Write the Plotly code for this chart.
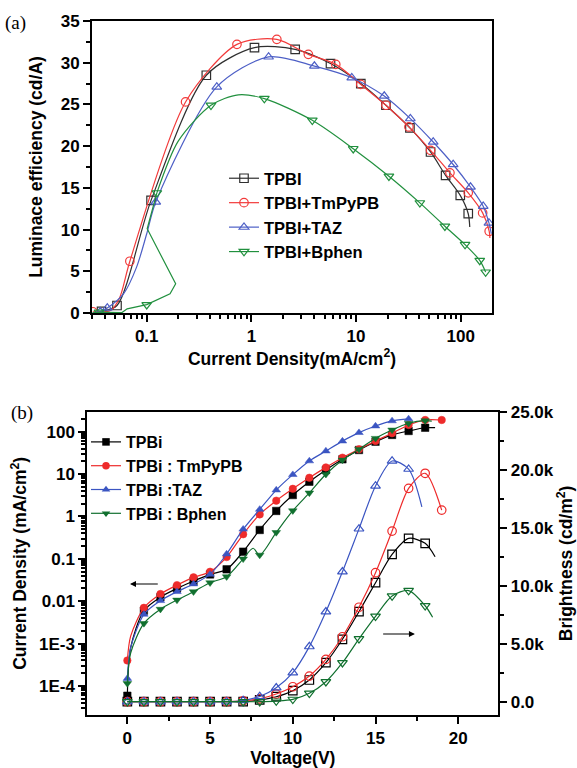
import math
import plotly.graph_objects as go

W, H = 577, 768

# ---------------- Panel (a): luminance efficiency vs current density ----------------
a_names = ["TPBI", "TPBI+TmPyPB", "TPBI+TAZ", "TPBI+Bphen"]

# full curve paths (x: mA/cm2, y: cd/A) and marker flags (1 = marker drawn)
tpbi_a_x = [0.031, 0.037, 0.052, 0.11, 0.371, 1.07, 2.62, 5.7, 11.1, 19.3, 32.7, 51.5, 71.7, 99, 118, 122]
tpbi_a_y = [0.05, 0.2, 0.9, 13.5, 28.5, 31.8, 31.6, 29.9, 27.5, 24.9, 22.2, 19.3, 16.5, 14.1, 11.9, 10.3]
tpbi_a_m = [0, 1, 1, 1, 1, 1, 1, 1, 1, 1, 1, 1, 1, 1, 1, 0]

tmpy_a_x = [0.0305, 0.045, 0.055, 0.069, 0.235, 0.728, 1.75, 3.5, 6.4, 11.1, 19.3, 32, 51.5, 78.9, 118, 162, 187, 190]
tmpy_a_y = [0.15, 0.3, 1.8, 6.2, 25.3, 32.2, 32.8, 31.0, 29.8, 27.4, 24.9, 22.3, 19.5, 16.8, 14.4, 12.0, 9.8, 9.0]
tmpy_a_m = [1, 0, 0, 1, 1, 1, 1, 1, 1, 1, 1, 1, 1, 1, 1, 1, 1, 0]

taz_a_x = [0.031, 0.036, 0.042, 0.06, 0.08, 0.1, 0.122, 0.467, 1.46, 4.0, 9.1, 18.6, 33, 54.6, 84.7, 124, 164, 186, 196]
taz_a_y = [0.05, 0.15, 0.6, 2.3, 5.5, 9.5, 13.3, 27.1, 30.7, 29.6, 28.2, 26.0, 23.3, 20.5, 17.8, 15.1, 12.8, 10.8, 9.5]
taz_a_m = [0, 1, 1, 0, 0, 0, 1, 1, 1, 1, 1, 1, 1, 1, 1, 1, 1, 1, 0]

bph_a_x = [0.03, 0.035, 0.058, 0.065, 0.1, 0.167, 0.189, 0.101, 0.125, 0.2, 0.411, 0.75, 1.33, 3.82, 9.4, 20.6, 40.7, 70.6, 110, 152, 173]
bph_a_y = [0.0, 0.1, 0.05, 0.5, 1.0, 2.3, 3.5, 10.1, 14.4, 20.6, 24.9, 26.15, 25.7, 23.1, 19.7, 16.4, 13.2, 10.4, 8.2, 6.3, 4.9]
bph_a_m = [0, 1, 0, 0, 1, 0, 0, 0, 1, 0, 1, 0, 1, 1, 1, 1, 1, 1, 1, 1, 1]
bph_a_kink_end = 8  # low-current part (up to this index) is drawn with straight segments

# ---------------- Panel (b): J-V and L-V ----------------
b_names = ["TPBi", "TPBi : TmPyPB", "TPBi :TAZ", "TPBi : Bphen"]

# current density (mA/cm2) paths
tpbi_j_v = [0, 0.2, 1, 2, 3, 4, 5, 6, 7, 8, 9, 10, 11, 12, 13, 14, 15, 16, 17, 18, 18.6]
tpbi_j = [5.9e-5, 8e-4, 0.006, 0.0125, 0.02, 0.03, 0.043, 0.0565, 0.148, 0.48, 1.35, 3.2, 6.6, 12.5, 22.3, 37, 58, 84, 104, 124, 125]
tpbi_j_m = [1, 0, 1, 1, 1, 1, 1, 1, 1, 1, 1, 1, 1, 1, 1, 1, 1, 1, 1, 1, 0]

tmpy_j_v = [0, 0.2, 1, 2, 3, 4, 5, 6, 7, 8, 9, 10, 11, 12, 13, 14, 15, 16, 17, 18, 19]
tmpy_j = [4.0e-4, 1.5e-3, 7.0e-3, 0.0148, 0.024, 0.0366, 0.0497, 0.110, 0.38, 1.12, 2.36, 4.5, 8.2, 14.4, 24.4, 38.5, 60.4, 92, 144, 189, 189]
tmpy_j_m = [1, 0, 1, 1, 1, 1, 1, 1, 1, 1, 1, 1, 1, 1, 1, 1, 1, 1, 1, 1, 1]

taz_j_v = [0, 0.2, 1, 2, 3, 4, 5, 6, 7, 8, 9, 10, 11, 12, 13, 14, 15, 16, 17]
taz_j = [1.5e-4, 8e-4, 4.9e-3, 0.0103, 0.0168, 0.0255, 0.043, 0.13, 0.50, 1.47, 4.2, 9.7, 20.4, 35, 60, 95, 136, 180, 200]
taz_j_m = [1, 0, 1, 1, 1, 1, 1, 1, 1, 1, 1, 1, 1, 1, 1, 1, 1, 1, 1]

bph_j_v = [0, 0.2, 1, 2, 3, 4, 5, 6, 7, 7.6, 8, 9, 10, 11, 12, 13, 14, 15, 16, 17, 18, 18.4]
bph_j = [1.15e-4, 6e-4, 3.0e-3, 0.0065, 0.0107, 0.0168, 0.0274, 0.038, 0.1, 0.178, 0.123, 0.42, 1.37, 3.6, 9.9, 21.5, 38.5, 70, 110, 158, 182, 178]
bph_j_m = [1, 0, 1, 1, 1, 1, 1, 1, 1, 0, 1, 1, 1, 1, 1, 1, 1, 1, 1, 1, 1, 0]

# brightness (cd/m2) paths
tpbi_l_v = [0, 1, 2, 3, 4, 5, 6, 7, 8, 9, 10, 11, 12, 13, 14, 15, 16, 17, 18, 18.6]
tpbi_l = [0, 0, 0, 0, 0, 0, 0, 0, 150, 430, 950, 1870, 3360, 5380, 7760, 10260, 12700, 14080, 13650, 12500]
tpbi_l_m = [1] * 19 + [0]

tmpy_l_v = [0, 1, 2, 3, 4, 5, 6, 7, 8, 9, 10, 11, 12, 13, 14, 15, 16, 17, 18, 19]
tmpy_l = [0, 0, 0, 0, 0, 0, 0, 80, 250, 660, 1290, 2210, 3650, 5600, 8140, 11120, 14710, 18390, 19690, 16520]
tmpy_l_m = [1] * 20

taz_l_v = [0, 1, 2, 3, 4, 5, 6, 7, 8, 9, 10, 11, 12, 13, 14, 15, 16, 17, 17.8]
taz_l = [0, 0, 0, 0, 0, 0, 0, 100, 450, 1200, 2500, 4750, 7750, 11200, 14900, 18600, 20750, 20050, 16800]
taz_l_m = [1] * 18 + [0]

bph_l_v = [0, 1, 2, 3, 4, 5, 6, 7, 8, 9, 10, 11, 12, 13, 14, 15, 16, 17, 18, 18.45]
bph_l = [0, 0, 0, 0, 0, 0, 0, 0, 0, 50, 200, 720, 1720, 3360, 5420, 7360, 9110, 9580, 8270, 7280]
bph_l_m = [1] * 19 + [0]

a_y_ticks = [0, 5, 10, 15, 20, 25, 30, 35]
a_x_ticks = [0.1, 1, 10, 100]
a_x_ticktext = ["0.1", "1", "10", "100"]
b_x_ticks = [0, 5, 10, 15, 20]
b_j_ticks = [1e-4, 1e-3, 0.01, 0.1, 1, 10, 100]
b_j_ticktext = ["1E-4", "1E-3", "0.01", "0.1", "1", "10", "100"]
b_l_ticks = [0, 5000, 10000, 15000, 20000, 25000]
b_l_ticktext = ["0.0", "5.0k", "10.0k", "15.0k", "20.0k", "25.0k"]

a_colors = ["#2f2f2f", "#f23a3a", "#4d5fc6", "#21903e"]
b_colors = ["#000000", "#ee2b2b", "#3b55c2", "#11702f"]
a_symbols = ["square-open", "circle-open", "triangle-up-open", "triangle-down-open"]
b_symbols_f = ["square", "circle", "triangle-up", "triangle-down"]
b_symbols_o = ["square-open", "circle-open", "triangle-up-open", "triangle-down-open"]

FONT = "Liberation Sans, Arial, sans-serif"


def pick(vals, flags):
    return [v for v, f in zip(vals, flags) if f]


def bold(lst):
    return ["<b>%s</b>" % s for s in lst]


fig = go.Figure()

a_series = [(tpbi_a_x, tpbi_a_y, tpbi_a_m), (tmpy_a_x, tmpy_a_y, tmpy_a_m),
            (taz_a_x, taz_a_y, taz_a_m), (bph_a_x, bph_a_y, bph_a_m)]
for i, (xs, ys, ms) in enumerate(a_series):
    c = a_colors[i]
    if i == 3:
        k = bph_a_kink_end
        fig.add_trace(go.Scatter(x=xs[:k + 1], y=ys[:k + 1], mode="lines", line=dict(color=c, width=1.2),
                                 xaxis="x", yaxis="y", showlegend=False, hoverinfo="skip"))
        fig.add_trace(go.Scatter(x=xs[k:], y=ys[k:], mode="lines",
                                 line=dict(color=c, width=1.2, shape="spline", smoothing=0.8),
                                 xaxis="x", yaxis="y", showlegend=False, hoverinfo="skip"))
    else:
        fig.add_trace(go.Scatter(x=xs, y=ys, mode="lines", line=dict(color=c, width=1.2, shape="spline", smoothing=0.8),
                                 xaxis="x", yaxis="y", showlegend=False, hoverinfo="skip"))
    fig.add_trace(go.Scatter(x=pick(xs, ms), y=pick(ys, ms), mode="markers",
                             marker=dict(symbol=a_symbols[i], size=8.5, color=c, line=dict(width=1.2, color=c)),
                             xaxis="x", yaxis="y", showlegend=False))
    fig.add_trace(go.Scatter(x=[None], y=[None], mode="lines+markers", name=a_names[i], legend="legend",
                             line=dict(color=c, width=1.2),
                             marker=dict(symbol=a_symbols[i], size=8.5, color=c, line=dict(width=1.2, color=c)),
                             xaxis="x", yaxis="y"))

b_j = [(tpbi_j_v, tpbi_j, tpbi_j_m), (tmpy_j_v, tmpy_j, tmpy_j_m), (taz_j_v, taz_j, taz_j_m), (bph_j_v, bph_j, bph_j_m)]
b_l = [(tpbi_l_v, tpbi_l, tpbi_l_m), (tmpy_l_v, tmpy_l, tmpy_l_m), (taz_l_v, taz_l, taz_l_m), (bph_l_v, bph_l, bph_l_m)]
for i in range(4):
    c = b_colors[i]
    xs, ys, ms = b_l[i]
    fig.add_trace(go.Scatter(x=xs, y=ys, mode="lines", line=dict(color=c, width=1.2, shape="spline", smoothing=0.8),
                             xaxis="x2", yaxis="y3", showlegend=False, hoverinfo="skip"))
    fig.add_trace(go.Scatter(x=pick(xs, ms), y=pick(ys, ms), mode="markers",
                             marker=dict(symbol=b_symbols_o[i], size=8.5, color=c, line=dict(width=1.2, color=c)),
                             xaxis="x2", yaxis="y3", showlegend=False))
for i in range(4):
    c = b_colors[i]
    xs, ys, ms = b_j[i]
    fig.add_trace(go.Scatter(x=xs, y=ys, mode="lines", line=dict(color=c, width=1.2, shape="spline", smoothing=0.8),
                             xaxis="x2", yaxis="y2", showlegend=False, hoverinfo="skip"))
    fig.add_trace(go.Scatter(x=pick(xs, ms), y=pick(ys, ms), mode="markers",
                             marker=dict(symbol=b_symbols_f[i], size=7.5, color=c, line=dict(width=0.5, color=c)),
                             xaxis="x2", yaxis="y2", showlegend=False))
    fig.add_trace(go.Scatter(x=[None], y=[None], mode="lines+markers", name=b_names[i], legend="legend2",
                             line=dict(color=c, width=1.2),
                             marker=dict(symbol=b_symbols_f[i], size=7.5, color=c),
                             xaxis="x2", yaxis="y2"))

tickfont = dict(family=FONT, size=17, color="black")
titlefont = dict(family=FONT, size=17.5, color="black", weight="bold")
axis_common = dict(showgrid=False, zeroline=False, showline=True, linecolor="black", linewidth=2,
                   ticks="outside", ticklen=7, tickwidth=2, tickcolor="black", tickfont=tickfont,
                   automargin=False, tickmode="array")
minor_common = dict(ticks="outside", ticklen=4, tickwidth=1.5, tickcolor="black", showgrid=False)

a_minor_x = [m * 10 ** e for e in range(-2, 3) for m in range(2, 10) if 0.03 <= m * 10 ** e <= 200]
b_minor_y = [m * 10 ** e for e in range(-5, 3) for m in range(2, 10) if 2e-5 <= m * 10 ** e <= 300]


def xd(x0, x1):
    return [x0 / W, x1 / W]


def yd(top, bottom):
    return [1 - bottom / H, 1 - top / H]


fig.update_layout(
    width=W, height=H, margin=dict(l=0, r=0, t=0, b=0),
    paper_bgcolor="white", plot_bgcolor="white",
    font=dict(family=FONT, color="black"),
    xaxis=dict(axis_common, type="log", domain=xd(92, 492), anchor="y",
               range=[math.log10(0.03), math.log10(199)], mirror=True,
               tickvals=a_x_ticks, ticktext=bold(a_x_ticktext),
               minor=dict(minor_common, tickmode="array", tickvals=a_minor_x),
               title=dict(text="Current Density(mA/cm<sup>2</sup>)", font=titlefont, standoff=4)),
    yaxis=dict(axis_common, domain=yd(21, 313), anchor="x", range=[0, 35], mirror=True,
               tickvals=a_y_ticks, ticktext=bold([str(t) for t in a_y_ticks]),
               minor=dict(minor_common, tick0=0, dtick=2.5),
               title=dict(text="Luminace efficiency (cd/A)", font=titlefont, standoff=14)),
    xaxis2=dict(axis_common, domain=xd(87.3, 498.3), anchor="y2", range=[-2.42, 22.42], mirror=True,
                tickvals=b_x_ticks, ticktext=bold([str(t) for t in b_x_ticks]),
                minor=dict(minor_common, tick0=0, dtick=2.5),
                title=dict(text="Voltage(V)", font=titlefont, standoff=10)),
    yaxis2=dict(axis_common, type="log", domain=yd(411.7, 715), anchor="x2", range=[-4.684, 2.472],
                tickvals=b_j_ticks, ticktext=bold(b_j_ticktext),
                minor=dict(minor_common, tickmode="array", tickvals=b_minor_y),
                title=dict(text="Current Density (mA/cm<sup>2</sup>)", font=titlefont, standoff=8)),
    yaxis3=dict(axis_common, overlaying="y2", side="right", anchor="x2", range=[-1147, 25000],
                tickvals=b_l_ticks, ticktext=bold(b_l_ticktext),
                minor=dict(minor_common, tick0=0, dtick=2500),
                title=dict(text="Brightness (cd/m<sup>2</sup>)", font=titlefont, standoff=6)),
    legend=dict(x=224 / W, y=1 - 161 / H, xanchor="left", yanchor="top", bgcolor="rgba(0,0,0,0)",
                font=dict(family=FONT, size=16.5, color="black", weight="bold"), itemwidth=30,
                tracegroupgap=0),
    legend2=dict(x=86 / W, y=1 - 425 / H, xanchor="left", yanchor="top", bgcolor="rgba(0,0,0,0)",
                 font=dict(family=FONT, size=16, color="black", weight="bold"), itemwidth=30,
                 tracegroupgap=0),
    annotations=[
        dict(text="(a)", x=15 / W, y=1 - 23 / H, xref="paper", yref="paper", showarrow=False,
             xanchor="center", yanchor="middle", font=dict(family="Liberation Serif, Times New Roman, serif", size=19)),
        dict(text="(b)", x=22 / W, y=1 - 413 / H, xref="paper", yref="paper", showarrow=False,
             xanchor="center", yanchor="middle", font=dict(family="Liberation Serif, Times New Roman, serif", size=19)),
        dict(x=0.16, y=math.log10(0.0255), ax=1.93, ay=math.log10(0.0255), xref="x2", yref="y2",
             axref="x2", ayref="y2", text="", showarrow=True, arrowhead=2, arrowsize=1, arrowwidth=1.2,
             arrowcolor="black"),
        dict(x=17.38, y=5836, ax=15.37, ay=5836, xref="x2", yref="y3", axref="x2", ayref="y3",
             text="", showarrow=True, arrowhead=2, arrowsize=1, arrowwidth=1.2, arrowcolor="black"),
    ],
)

fig.write_html("out.html")
